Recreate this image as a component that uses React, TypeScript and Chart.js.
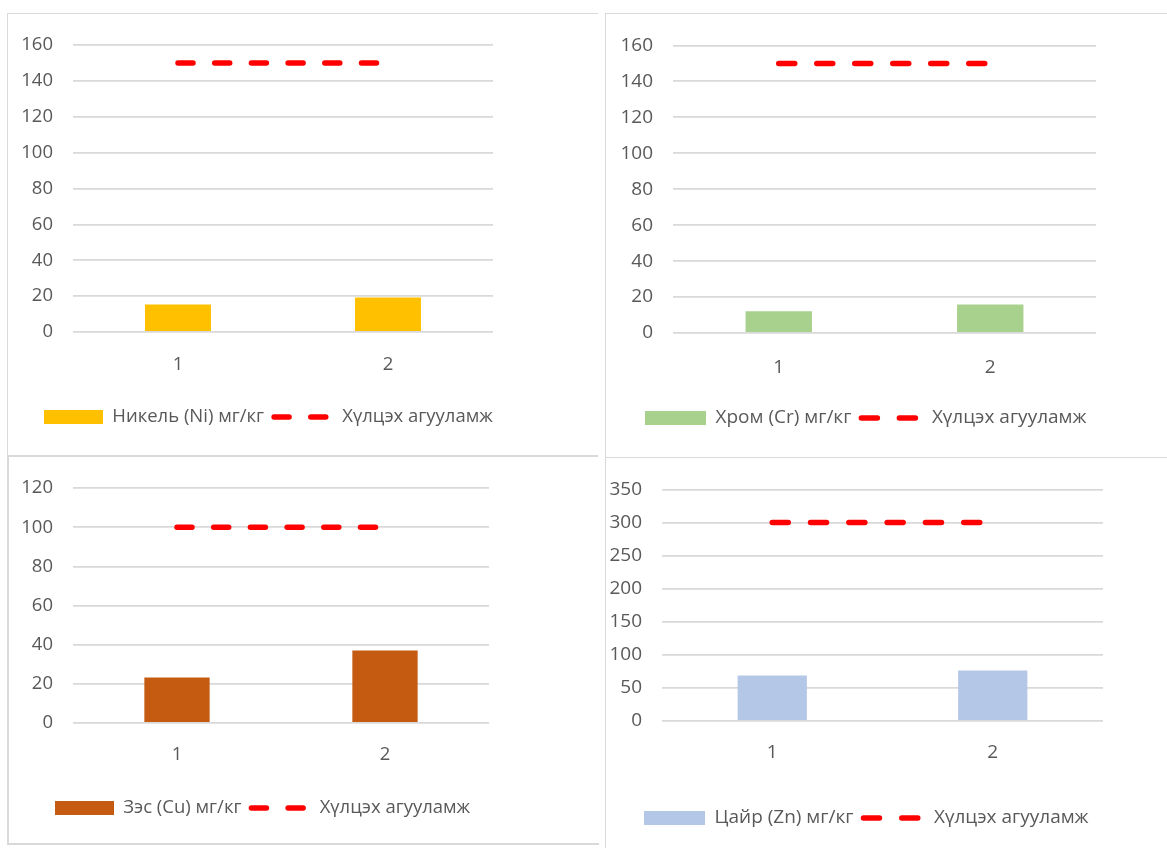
import React, { useEffect, useRef } from "react";
import { Chart, registerables } from "chart.js";

Chart.register(...registerables);

// ---- data ----
const categories = ["1", "2"];
const nickelValues = [15.4, 19.3];
const chromiumValues = [12.1, 15.9];
const copperValues = [23.3, 37.0];
const zincValues = [68.9, 76.2];
const nickelLimit = [150, 150];
const chromiumLimit = [150, 150];
const copperLimit = [100, 100];
const zincLimit = [300, 300];
const nickelLabel = "Никель (Ni) мг/кг";
const chromiumLabel = "Хром (Cr) мг/кг";
const copperLabel = "Зэс (Cu) мг/кг";
const zincLabel = "Цайр (Zn) мг/кг";
const limitLabel = "Хүлцэх агууламж";
const nickelAxis = { max: 160, step: 20 };
const chromiumAxis = { max: 160, step: 20 };
const copperAxis = { max: 120, step: 20 };
const zincAxis = { max: 350, step: 50 };

// ---- layout / style ----
const FONT = "'Open Sans', 'DejaVu Sans', sans-serif";
const TEXT = "#595959";
const GRID = "#d9d9d9";
const YW = 60;
const XH = 60;

type PanelCfg = {
  x: number; y: number; w: number; h: number;
  area: { l: number; t: number; r: number; b: number };
  xPad: number;
  legendX: number; legendY: number;
  font: number; boxW: number; boxH: number;
  dash: number[];
};

const panelCfgs: PanelCfg[] = [
  { x: 8, y: 14, w: 583, h: 441, area: { l: 73, t: 42, r: 493, b: 332 }, xPad: 22, legendX: 44, legendY: 417, font: 18.5, boxW: 59, boxH: 14, dash: [15, 21.7] },
  { x: 606, y: 14, w: 561, h: 443, area: { l: 673, t: 42, r: 1096, b: 333 }, xPad: 23, legendX: 645, legendY: 418, font: 19, boxW: 61, boxH: 14, dash: [16, 22] },
  { x: 8, y: 457, w: 583, h: 387, area: { l: 73, t: 486, r: 489, b: 723 }, xPad: 21, legendX: 55, legendY: 808, font: 18.5, boxW: 59, boxH: 14, dash: [15, 21.7] },
  { x: 606, y: 458, w: 561, h: 390, area: { l: 662, t: 482, r: 1103, b: 721 }, xPad: 20, legendX: 644, legendY: 818, font: 19, boxW: 61, boxH: 14, dash: [16, 22.3] },
];

type Series = {
  values: number[]; limit: number[]; label: string; color: string;
  axis: { max: number; step: number };
};

const seriesList: Series[] = [
  { values: nickelValues, limit: nickelLimit, label: nickelLabel, color: "#FFC000", axis: nickelAxis },
  { values: chromiumValues, limit: chromiumLimit, label: chromiumLabel, color: "#A9D18E", axis: chromiumAxis },
  { values: copperValues, limit: copperLimit, label: copperLabel, color: "#C55A11", axis: copperAxis },
  { values: zincValues, limit: zincLimit, label: zincLabel, color: "#B4C7E7", axis: zincAxis },
];

function Panel({ cfg, series }: { cfg: PanelCfg; series: Series }) {
  const ref = useRef<HTMLCanvasElement | null>(null);
  useEffect(() => {
    if (!ref.current) return;
    const legendHeight = cfg.font + 20;
    const padding = {
      left: cfg.area.l - cfg.x - YW,
      top: cfg.area.t - cfg.y,
      right: cfg.x + cfg.w - cfg.area.r,
      bottom: cfg.y + cfg.h - cfg.area.b - XH - legendHeight,
    };
    const legendMover = {
      id: "legendMover",
      afterLayout(chart: any) {
        const lg = chart.legend;
        if (!lg) return;
        const dx = cfg.legendX - cfg.x - 10 - lg.left;
        const dy = cfg.legendY - cfg.y - 10 - cfg.font / 2 - lg.top;
        lg.left += dx; lg.right += dx;
        lg.top += dy; lg.bottom += dy;
      },
    };
    const chart = new Chart(ref.current, {
      type: "bar",
      data: {
        labels: categories,
        datasets: [
          {
            type: "bar",
            label: series.label,
            data: series.values,
            backgroundColor: series.color,
            borderWidth: 0,
            barPercentage: 0.314,
            categoryPercentage: 1,
          } as any,
          {
            type: "line",
            label: limitLabel,
            data: series.limit,
            borderColor: "#FF0000",
            backgroundColor: "#FF0000",
            borderWidth: 5.5,
            borderDash: cfg.dash,
            borderCapStyle: "round",
            pointRadius: 0,
            fill: false,
          } as any,
        ],
      },
      options: {
        animation: false,
        responsive: true,
        maintainAspectRatio: false,
        layout: { padding },
        scales: {
          x: {
            grid: { display: false, drawTicks: false },
            border: { display: false },
            ticks: { color: TEXT, font: { family: FONT, size: cfg.font }, padding: cfg.xPad },
            afterFit: (s: any) => { s.height = XH; },
          },
          y: {
            min: 0,
            max: series.axis.max,
            ticks: { stepSize: series.axis.step, color: TEXT, font: { family: FONT, size: cfg.font }, padding: 20 },
            grid: { color: GRID, lineWidth: 1.8, drawTicks: false },
            border: { display: false },
            afterFit: (s: any) => { s.width = YW; },
          },
        },
        plugins: {
          tooltip: { enabled: false },
          legend: {
            position: "bottom",
            align: "start",
            labels: {
              color: TEXT,
              font: { family: FONT, size: cfg.font },
              usePointStyle: true,
              pointStyleWidth: cfg.boxW,
              boxHeight: cfg.boxH,
              padding: 10,
              generateLabels: (ch: any) =>
                ch.data.datasets.map((ds: any, i: number) =>
                  i === 0
                    ? {
                        text: ds.label, fillStyle: ds.backgroundColor, strokeStyle: ds.backgroundColor,
                        lineWidth: 0, pointStyle: "rect", datasetIndex: i, hidden: false, fontColor: TEXT,
                      }
                    : {
                        text: ds.label, fillStyle: "rgba(0,0,0,0)", strokeStyle: "#FF0000",
                        lineWidth: 5.5, lineDash: cfg.dash, lineCap: "round", pointStyle: "line",
                        datasetIndex: i, hidden: false, fontColor: TEXT,
                      }
                ),
            },
          },
        },
      } as any,
      plugins: [legendMover],
    });
    return () => chart.destroy();
  }, [cfg, series]);
  return (
    <div style={{ position: "absolute", left: cfg.x, top: cfg.y, width: cfg.w, height: cfg.h }}>
      <canvas ref={ref} />
    </div>
  );
}

export default function App() {
  const border = "1px solid #d9d9d9";
  return (
    <div style={{ position: "absolute", left: 0, top: 0, width: 1167, height: 848, background: "#fff", overflow: "hidden" }}>
      <div style={{ position: "absolute", left: 7, top: 13, width: 590, height: 441, borderTop: border, borderLeft: border, borderBottom: "2px solid #d9d9d9" }} />
      <div style={{ position: "absolute", left: 7, top: 456, width: 590, height: 387, borderLeft: "2px solid #d9d9d9", borderBottom: "2px solid #d9d9d9" }} />
      <div style={{ position: "absolute", left: 605, top: 13, width: 600, height: 443, borderTop: border, borderLeft: border, borderBottom: "1.5px solid #d9d9d9" }} />
      <div style={{ position: "absolute", left: 605, top: 457, width: 600, height: 400, borderLeft: border }} />
      {panelCfgs.map((cfg, i) => (
        <Panel key={i} cfg={cfg} series={seriesList[i]} />
      ))}
    </div>
  );
}
